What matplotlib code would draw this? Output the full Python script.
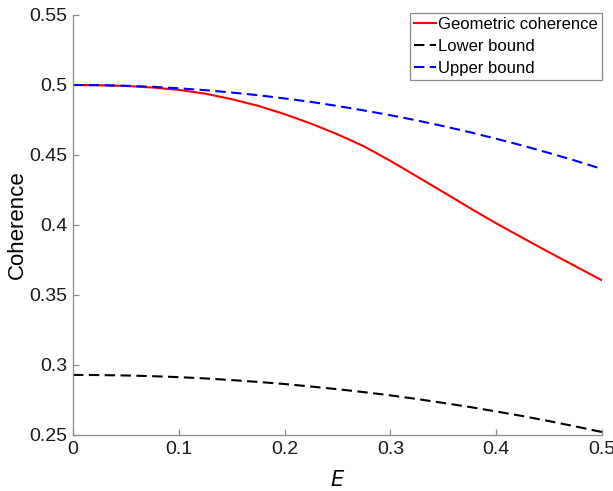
#!/usr/bin/env python3

import matplotlib
matplotlib.use("Agg")
import matplotlib.pyplot as plt
from matplotlib.ticker import FuncFormatter

# values, E in steps of 0.025
energy = [0.0, 0.025, 0.05, 0.075, 0.1, 0.125, 0.15, 0.175, 0.2, 0.225, 0.25,
          0.275, 0.3, 0.325, 0.35, 0.375, 0.4, 0.425, 0.45, 0.475, 0.5]

geometric = [0.5000, 0.4998, 0.4993, 0.4982, 0.4965, 0.4938, 0.4899, 0.4851,
             0.4792, 0.4724, 0.4648, 0.4562, 0.4458, 0.4347, 0.4235, 0.4122,
             0.4012, 0.3908, 0.3805, 0.3705, 0.3605]

lower = [0.2929, 0.2928, 0.2925, 0.2920, 0.2913, 0.2904, 0.2892, 0.2879,
         0.2864, 0.2846, 0.2827, 0.2806, 0.2783, 0.2757, 0.2729, 0.2700,
         0.2668, 0.2635, 0.2599, 0.2561, 0.2521]

upper = [0.5000, 0.4999, 0.4994, 0.4987, 0.4976, 0.4963, 0.4946, 0.4927,
         0.4904, 0.4879, 0.4850, 0.4818, 0.4784, 0.4747, 0.4706, 0.4663,
         0.4616, 0.4567, 0.4514, 0.4459, 0.4400]

xticks = [0, 0.1, 0.2, 0.3, 0.4, 0.5]
yticks = [0.25, 0.3, 0.35, 0.4, 0.45, 0.5, 0.55]

plt.rcParams["font.family"] = ["Liberation Sans", "DejaVu Sans"]

fig = plt.figure(figsize=(6.13, 4.91), dpi=100)
ax = fig.add_axes([0.1191, 0.1141, 0.8629, 0.8554])

dash = (0, (5, 2.6))
ax.plot(energy, geometric, "-", color="#ff0000", linewidth=1.5,
        label="Geometric coherence")
ax.plot(energy, lower, linestyle=dash, color="black", linewidth=1.5,
        label="Lower bound")
ax.plot(energy, upper, linestyle=dash, color="#0000ff", linewidth=1.5,
        label="Upper bound")

ax.set_xlim(0, 0.5)
ax.set_ylim(0.25, 0.55)
ax.set_xticks(xticks)
ax.set_yticks(yticks)
fmt = FuncFormatter(lambda v, pos: "%g" % round(v, 4))
ax.xaxis.set_major_formatter(fmt)
ax.yaxis.set_major_formatter(fmt)

for side in ("top", "right"):
    ax.spines[side].set_visible(False)
for side in ("left", "bottom"):
    ax.spines[side].set_color("#8c8c8c")
    ax.spines[side].set_linewidth(0.9)
ax.tick_params(direction="in", length=4, width=0.9, color="#8c8c8c",
               labelsize=14, labelcolor="#1a1a1a", pad=4)

ax.set_xlabel("$E$", fontsize=15, labelpad=9)
ax.set_ylabel("Coherence", fontsize=16, labelpad=1)

leg = ax.legend(loc="upper right", bbox_to_anchor=(1.0, 1.005),
                borderaxespad=0, fontsize=12, handlelength=1.3,
                handletextpad=0.15, labelspacing=0.42, borderpad=0.25,
                fancybox=False, framealpha=1)
leg.get_frame().set_edgecolor("#8c8c8c")
leg.get_frame().set_linewidth(0.9)

fig.savefig("out.png", dpi=100)
